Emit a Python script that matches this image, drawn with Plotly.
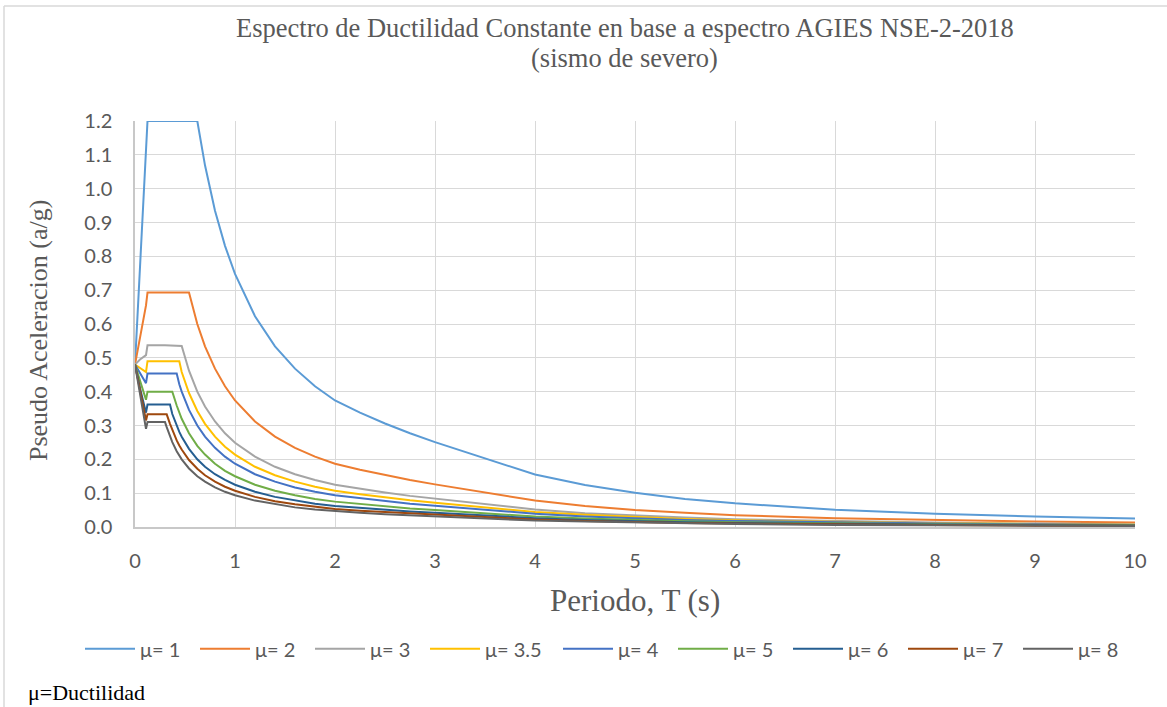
import plotly.graph_objects as go

# Periodo T (s)
periodo = [0, 0.05, 0.11, 0.125, 0.3, 0.317, 0.35, 0.373, 0.417, 0.443, 0.467, 0.54, 0.623,
           0.7, 0.8, 0.9, 1.0, 1.2, 1.4, 1.6, 1.8, 2.0, 2.25, 2.5, 2.75, 3.0,
           3.4, 3.75, 4.0, 4.5, 5.0, 5.5, 6.0, 7.0, 8.0, 9.0, 10.0]

# Pseudo aceleracion (a/g) para cada ductilidad
sa_mu1 = [0.48, 0.763, 1.104, 1.2, 1.2, 1.2, 1.2, 1.2, 1.2, 1.2, 1.2, 1.2, 1.2,
          1.069, 0.935, 0.831, 0.748, 0.623, 0.534, 0.468, 0.416, 0.374, 0.338, 0.306, 0.277, 0.251,
          0.212, 0.179, 0.155, 0.124, 0.101, 0.083, 0.070, 0.051, 0.039, 0.031, 0.025]
sa_mu2 = [0.48, 0.555, 0.655, 0.693, 0.693, 0.693, 0.693, 0.693, 0.693, 0.693, 0.693, 0.693, 0.600,
          0.534, 0.468, 0.416, 0.374, 0.312, 0.267, 0.234, 0.208, 0.187, 0.169, 0.153, 0.139, 0.126,
          0.106, 0.090, 0.078, 0.062, 0.050, 0.042, 0.035, 0.026, 0.020, 0.016, 0.013]
sa_mu3 = [0.48, 0.495, 0.508, 0.537, 0.537, 0.537, 0.537, 0.537, 0.537, 0.537, 0.535, 0.462, 0.400,
          0.356, 0.312, 0.277, 0.249, 0.208, 0.178, 0.156, 0.139, 0.125, 0.113, 0.102, 0.092, 0.084,
          0.071, 0.060, 0.052, 0.041, 0.034, 0.028, 0.023, 0.017, 0.013, 0.010, 0.008]
sa_mu35 = [0.48, 0.47, 0.458, 0.490, 0.490, 0.490, 0.490, 0.490, 0.490, 0.490, 0.458, 0.396, 0.343,
           0.305, 0.267, 0.237, 0.214, 0.178, 0.153, 0.134, 0.119, 0.107, 0.097, 0.087, 0.079, 0.072,
           0.061, 0.051, 0.044, 0.036, 0.029, 0.024, 0.020, 0.015, 0.011, 0.009, 0.007]
sa_mu4 = [0.48, 0.455, 0.425, 0.454, 0.454, 0.454, 0.454, 0.454, 0.454, 0.422, 0.400, 0.346, 0.300,
          0.267, 0.234, 0.208, 0.187, 0.156, 0.134, 0.117, 0.104, 0.094, 0.085, 0.077, 0.069, 0.063,
          0.053, 0.045, 0.039, 0.031, 0.025, 0.021, 0.018, 0.013, 0.010, 0.008, 0.006]
sa_mu5 = [0.48, 0.43, 0.376, 0.400, 0.400, 0.400, 0.400, 0.400, 0.359, 0.338, 0.320, 0.277, 0.240,
          0.214, 0.187, 0.166, 0.150, 0.125, 0.107, 0.094, 0.083, 0.075, 0.068, 0.061, 0.055, 0.050,
          0.042, 0.036, 0.031, 0.025, 0.020, 0.017, 0.014, 0.010, 0.008, 0.006, 0.005]
sa_mu6 = [0.48, 0.41, 0.338, 0.362, 0.362, 0.362, 0.362, 0.334, 0.299, 0.281, 0.267, 0.231, 0.200,
          0.178, 0.156, 0.139, 0.125, 0.104, 0.089, 0.078, 0.069, 0.062, 0.056, 0.051, 0.046, 0.042,
          0.035, 0.030, 0.026, 0.021, 0.017, 0.014, 0.012, 0.009, 0.007, 0.005, 0.004]
sa_mu7 = [0.48, 0.40, 0.315, 0.333, 0.333, 0.333, 0.305, 0.286, 0.256, 0.241, 0.229, 0.198, 0.172,
          0.153, 0.134, 0.119, 0.107, 0.089, 0.076, 0.067, 0.059, 0.053, 0.048, 0.044, 0.040, 0.036,
          0.030, 0.026, 0.022, 0.018, 0.014, 0.012, 0.010, 0.007, 0.006, 0.004, 0.004]
sa_mu8 = [0.48, 0.39, 0.29, 0.310, 0.310, 0.295, 0.267, 0.251, 0.224, 0.211, 0.200, 0.173, 0.150,
          0.134, 0.117, 0.104, 0.094, 0.078, 0.067, 0.058, 0.052, 0.047, 0.042, 0.038, 0.035, 0.031,
          0.027, 0.022, 0.019, 0.016, 0.013, 0.010, 0.009, 0.006, 0.005, 0.004, 0.003]

series_names = ["μ= 1", "μ= 2", "μ= 3", "μ= 3.5", "μ= 4", "μ= 5", "μ= 6", "μ= 7", "μ= 8"]
series_values = [sa_mu1, sa_mu2, sa_mu3, sa_mu35, sa_mu4, sa_mu5, sa_mu6, sa_mu7, sa_mu8]
series_colors = ["#5B9BD5", "#ED7D31", "#A5A5A5", "#FFC000", "#4472C4",
                 "#70AD47", "#255E91", "#9E480E", "#636363"]

x_ticks = list(range(0, 11))
y_ticks = [round(0.1 * i, 1) for i in range(13)]

SERIF = "Liberation Serif, Times New Roman, serif"
SANS = "Lato, Open Sans, sans-serif"
GREY_TXT = "#595959"

fig = go.Figure()
for name, vals, col in zip(series_names, series_values, series_colors):
    fig.add_trace(go.Scatter(x=periodo, y=vals, name=name, mode="lines",
                             line=dict(color=col, width=2),
                             legendwidth=68 if "." in name else 50))

fig.update_layout(
    width=1167, height=707,
    margin=dict(l=135, r=32, t=121, b=180),
    paper_bgcolor="white", plot_bgcolor="white",
    showlegend=True,
    legend=dict(orientation="h", x=-0.055, xanchor="left", y=-0.30, yanchor="middle",
                font=dict(family=SANS, size=20, color=GREY_TXT), itemwidth=50,
                traceorder="normal"),
    xaxis=dict(range=[0, 10], tickvals=x_ticks, ticktext=[str(v) for v in x_ticks],
               showgrid=True, gridcolor="#d9d9d9", gridwidth=1.3,
               showline=True, linecolor="#c8c8c8", linewidth=1.5,
               zeroline=False, ticks="", ticklabelstandoff=15,
               tickfont=dict(family=SANS, size=20, color=GREY_TXT)),
    yaxis=dict(range=[0, 1.2], tickvals=y_ticks, ticktext=[f"{v:.1f}" for v in y_ticks],
               showgrid=True, gridcolor="#d9d9d9", gridwidth=1.3,
               showline=True, linecolor="#c8c8c8", linewidth=1.5,
               zeroline=False, ticks="", ticklabelstandoff=17,
               tickfont=dict(family=SANS, size=20, color=GREY_TXT)),
)

# Titles and notes
fig.add_annotation(text="Espectro de Ductilidad Constante en base a espectro AGIES NSE-2-2018",
                   xref="paper", yref="paper", x=0.4895, y=(527 - 28) / 406,
                   xanchor="center", yanchor="middle",
                   showarrow=False, font=dict(family=SERIF, size=26.5, color=GREY_TXT))
fig.add_annotation(text="(sismo de severo)",
                   xref="paper", yref="paper", x=0.4895, y=(527 - 58) / 406,
                   xanchor="center", yanchor="middle",
                   showarrow=False, font=dict(family=SERIF, size=26.5, color=GREY_TXT))
fig.add_annotation(text="Periodo, T (s)", xref="paper", yref="paper", x=0.5, y=-0.181,
                   xanchor="center", yanchor="middle", showarrow=False,
                   font=dict(family=SERIF, size=31, color=GREY_TXT))
fig.add_annotation(text="Pseudo Aceleracion (a/g)", xref="paper", yref="paper", x=-0.097,
                   y=(527 - 331) / 406,
                   xanchor="center", yanchor="middle", textangle=-90, showarrow=False,
                   font=dict(family=SERIF, size=26, color=GREY_TXT))
fig.add_annotation(text="μ=Ductilidad", xref="paper", yref="paper", x=-0.109, y=-0.407,
                   xanchor="left", yanchor="middle", showarrow=False,
                   font=dict(family=SERIF, size=22, color="black"))

# Chart frame
fig.add_shape(type="line", xref="paper", yref="paper", x0=-0.131, x1=1.05, y0=1.2833, y1=1.2833,
              line=dict(color="#d9d9d9", width=1.5))
fig.add_shape(type="line", xref="paper", yref="paper", x0=-0.131, x1=-0.131, y0=1.2833, y1=-0.5,
              line=dict(color="#d9d9d9", width=1.5))

fig.write_html("out.html")
